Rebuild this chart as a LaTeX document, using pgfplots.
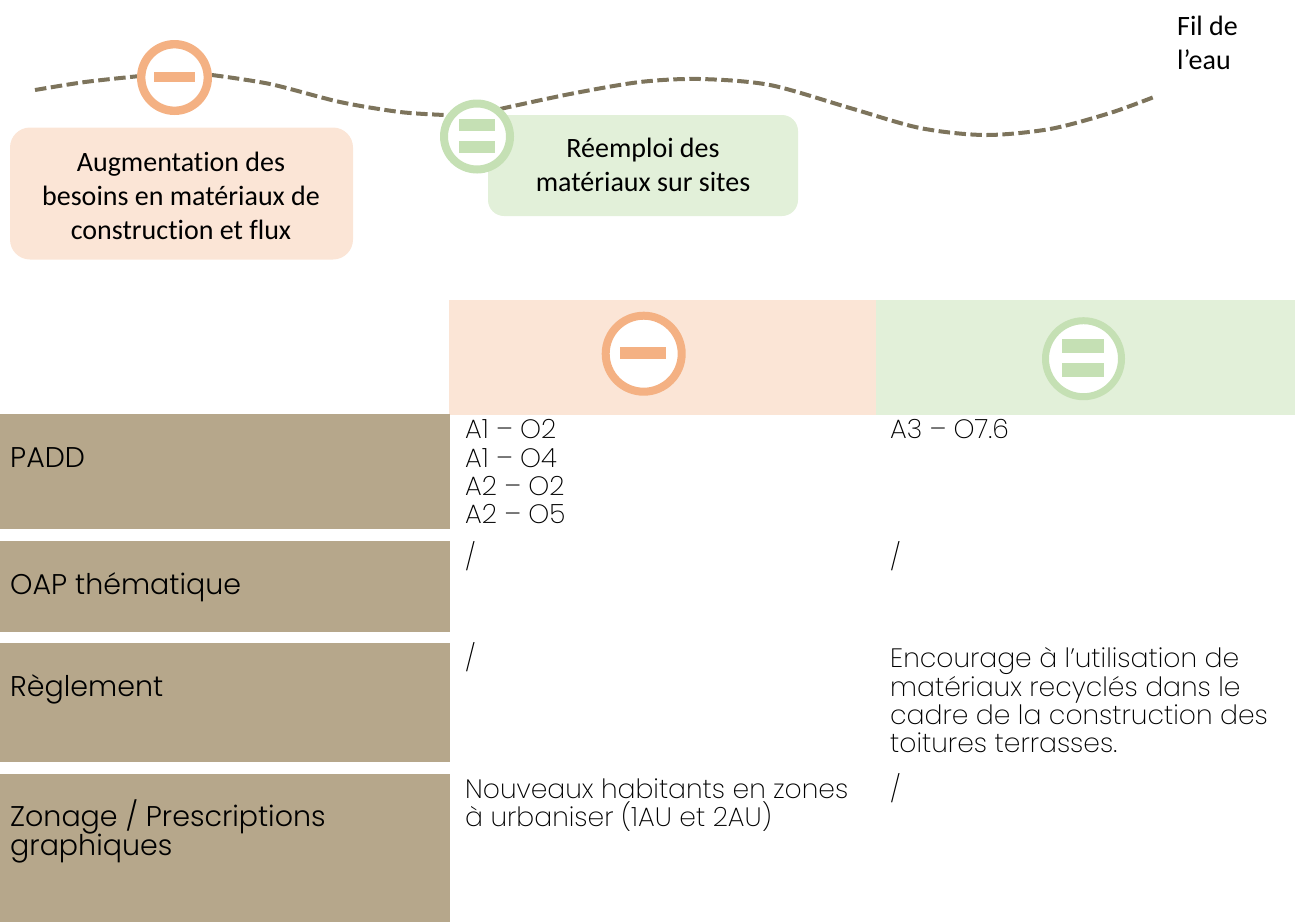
\documentclass[border=0pt]{standalone}
\usepackage{pgfplots}
\pgfplotsset{compat=1.18}
\usepackage{fontspec}
\setmainfont[Ligatures=NoCommon]{Carlito}
\newfontfamily\tf{Poppins ExtraLight}
\newfontfamily\tg{Poppins Light}
\definecolor{org}{HTML}{F4B183}
\definecolor{orgl}{HTML}{FBE5D6}
\definecolor{grn}{HTML}{C5E0B4}
\definecolor{grnl}{HTML}{E2F0D9}
\definecolor{tanc}{HTML}{B6A78B}
\definecolor{dashc}{HTML}{7D745C}
\newcommand{\ca}[3]{\node[anchor=base,font=\fontsize{28}{34}\selectfont,inner sep=0pt] at (axis cs:#1,#2) {#3};}
\newcommand{\tx}[3]{\node[anchor=base west,font=\tf\fontsize{26.6}{28}\selectfont,inner sep=0pt] at (axis cs:#1,#2) {#3};}
\newcommand{\ty}[3]{\node[anchor=base west,font=\tg\fontsize{28.5}{28}\selectfont,inner sep=0pt] at (axis cs:#1,#2) {#3};}
\begin{document}
\begin{tikzpicture}[x=1pt,y=1pt]
\begin{axis}[at={(0,0)},anchor=south west,scale only axis,width=1295pt,height=922pt,xmin=0,xmax=1295,ymin=0,ymax=922,y dir=reverse,hide axis,clip=false,clip mode=individual]
\path (axis cs:0,0) rectangle (axis cs:1295,922);
% table cells
\addplot[fill=orgl,draw=none] coordinates {(449,300)(876,300)(876,415)(449,415)} --cycle;
\addplot[fill=grnl,draw=none] coordinates {(876,300)(1295,300)(1295,415)(876,415)} --cycle;
\addplot[fill=tanc,draw=none] coordinates {(0,414)(450,414)(450,529)(0,529)} --cycle;
\addplot[fill=tanc,draw=none] coordinates {(0,541)(450,541)(450,632)(0,632)} --cycle;
\addplot[fill=tanc,draw=none] coordinates {(0,643)(450,643)(450,762)(0,762)} --cycle;
\addplot[fill=tanc,draw=none] coordinates {(0,774)(450,774)(450,922)(0,922)} --cycle;
% wavy line
\addplot[dashc,line width=4pt,dash pattern=on 11.5pt off 4.5pt,smooth] coordinates {(35,90)(85,82)(140,76)};
\addplot[dashc,line width=4pt,dash pattern=on 11.5pt off 4.5pt,smooth] coordinates {(212,75)(270,84)(340,102)(400,112)(445,115)};
\addplot[dashc,line width=4pt,dash pattern=on 11.5pt off 4.5pt,smooth] coordinates {(500,109)(570,94)(640,82)(700,79)(770,85)(850,108)(920,128)(985,135)(1050,129)(1110,113)(1154,97)};
% callouts
\addplot[fill=orgl,draw=none,rounded corners=20pt] coordinates {(10,127.5)(353,127.5)(353,259.5)(10,259.5)} --cycle;
\addplot[fill=grnl,draw=none,rounded corners=16pt] coordinates {(488,115)(798,115)(798,216)(488,216)} --cycle;
% circles
\addplot[only marks,mark=*,mark size=33.3pt,mark options={fill=white,draw=org,line width=8.4pt}] coordinates {(174.5,77.5)};
\addplot[only marks,mark=*,mark size=33pt,mark options={fill=white,draw=grn,line width=8pt}] coordinates {(477,136.5)};
\addplot[only marks,mark=*,mark size=38pt,mark options={fill=white,draw=org,line width=8pt}] coordinates {(643.7,353.7)};
\addplot[only marks,mark=*,mark size=38pt,mark options={fill=white,draw=grn,line width=7pt}] coordinates {(1083.5,358.7)};
% signs
\addplot[fill=org,draw=none] coordinates {(154,72)(194.5,72)(194.5,82)(154,82)} --cycle;
\addplot[fill=grn,draw=none] coordinates {(458.5,119)(494.5,119)(494.5,131)(458.5,131)} --cycle;
\addplot[fill=grn,draw=none] coordinates {(458.5,141)(494.5,141)(494.5,153)(458.5,153)} --cycle;
\addplot[fill=org,draw=none] coordinates {(620,347)(666,347)(666,359)(620,359)} --cycle;
\addplot[fill=grn,draw=none] coordinates {(1062,339)(1104,339)(1104,353)(1062,353)} --cycle;
\addplot[fill=grn,draw=none] coordinates {(1062,363)(1104,363)(1104,377)(1062,377)} --cycle;
% texts
\ca{181}{171.5}{Augmentation des}
\ca{181}{205.5}{besoins en matériaux de}
\ca{181}{239.5}{construction et flux}
\ca{643}{157.5}{Réemploi des}
\ca{643}{191.5}{matériaux sur sites}
\node[anchor=base west,font=\fontsize{28}{34}\selectfont,inner sep=0pt] at (axis cs:1177,35) {Fil de};
\node[anchor=base west,font=\fontsize{28}{34}\selectfont,inner sep=0pt] at (axis cs:1177,69) {l’eau};
\ty{10}{467}{PADD}
\ty{10}{594}{OAP thématique}
\ty{10}{696}{Règlement}
\ty{10}{826}{Zonage / Prescriptions}
\ty{10}{855}{graphiques}
\tx{465}{438}{A1 – O2}
\tx{465}{467}{A1 – O4}
\tx{465}{495}{A2 – O2}
\tx{465}{523}{A2 – O5}
\tx{890}{438}{A3 – O7.6}
\tx{465}{566}{/}
\tx{890}{566}{/}
\tx{465}{667}{/}
\tx{890}{667}{Encourage à l’utilisation de}
\tx{890}{696}{matériaux recyclés dans le}
\tx{890}{724}{cadre de la construction des}
\tx{890}{752}{toitures terrasses.}
\tx{465}{798}{Nouveaux habitants en zones}
\tx{465}{826}{à urbaniser (1AU et 2AU)}
\tx{890}{798}{/}
\end{axis}
\end{tikzpicture}
\end{document}
